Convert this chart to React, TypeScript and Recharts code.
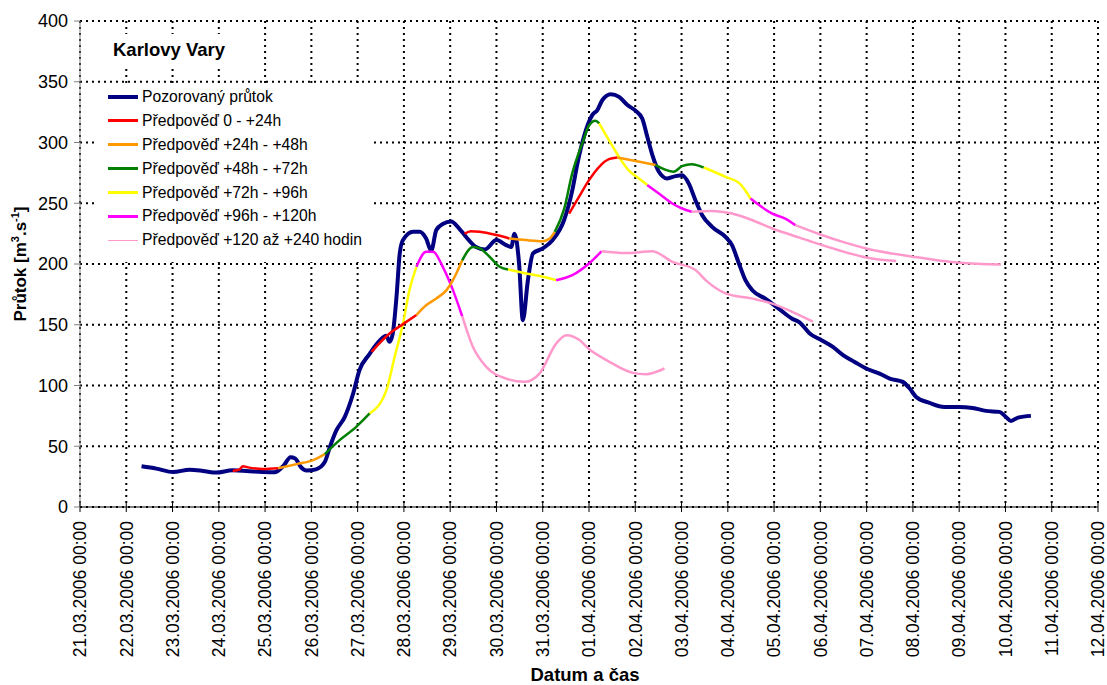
import { CartesianGrid, Legend, Line, LineChart, XAxis, YAxis } from 'recharts'

type Pt = [number, number]

// x = days since 21.03.2006 00:00
const dayLabels = [
  '21.03.2006 00:00', '22.03.2006 00:00', '23.03.2006 00:00', '24.03.2006 00:00',
  '25.03.2006 00:00', '26.03.2006 00:00', '27.03.2006 00:00', '28.03.2006 00:00',
  '29.03.2006 00:00', '30.03.2006 00:00', '31.03.2006 00:00', '01.04.2006 00:00',
  '02.04.2006 00:00', '03.04.2006 00:00', '04.04.2006 00:00', '05.04.2006 00:00',
  '06.04.2006 00:00', '07.04.2006 00:00', '08.04.2006 00:00', '09.04.2006 00:00',
  '10.04.2006 00:00', '11.04.2006 00:00', '12.04.2006 00:00',
]
const dayTicks = dayLabels.map((_, i) => i)
const flowTicks = [0, 50, 100, 150, 200, 250, 300, 350, 400]

const observed: Pt[] = [
  [1.33, 33.5], [1.65, 31.6], [2.01, 28.8], [2.37, 30.7], [2.66, 29.7], [2.94, 28.3],
  [3.3, 30.2], [3.59, 29.7], [3.95, 28.8], [4.2, 28.5], [4.4, 34], [4.55, 41], [4.65, 40],
  [4.77, 33], [4.9, 30], [5.1, 31], [5.29, 37], [5.4, 49.4], [5.54, 63], [5.72, 74],
  [5.9, 93], [6.04, 112.6], [6.26, 126], [6.48, 137], [6.62, 141], [6.69, 136], [6.76, 143],
  [6.84, 173], [6.91, 208.7], [6.98, 219.7], [7.2, 226.5], [7.34, 226.5], [7.48, 221],
  [7.59, 211], [7.7, 228], [7.84, 233], [8.02, 235], [8.2, 229], [8.35, 222], [8.56, 214],
  [8.75, 212], [9.0, 219.7], [9.21, 215.5], [9.32, 214], [9.39, 225], [9.49, 200],
  [9.57, 153.8], [9.68, 186.7], [9.79, 208.7], [10.0, 212.8], [10.21, 219.6], [10.46, 236],
  [10.64, 260.8], [10.75, 282.7], [10.89, 304.7], [11.07, 322.5], [11.18, 326.7],
  [11.29, 335], [11.47, 339.8], [11.65, 337.6], [11.83, 330.8], [12.01, 326], [12.15, 319.8],
  [12.26, 304.7], [12.37, 289.6], [12.51, 275.9], [12.69, 270.4], [12.87, 272.3], [13.01, 273],
  [13.16, 266], [13.3, 252.5], [13.45, 240], [13.66, 230.6], [13.95, 222.3], [14.09, 215.5],
  [14.24, 200.4], [14.38, 186.7], [14.53, 178.4], [14.81, 171.5], [15.1, 163.3], [15.39, 155],
  [15.55, 152], [15.77, 142.8], [16, 137.8], [16.27, 131.8], [16.49, 125], [16.74, 119.4],
  [16.99, 114], [17.28, 109.8], [17.5, 105.7], [17.78, 103], [17.93, 97.5], [18.07, 90.6],
  [18.36, 85.7], [18.68, 82.4], [19.0, 82.4], [19.29, 81.5], [19.58, 79.1], [19.87, 78.3],
  [20.01, 74.1], [20.12, 70.8], [20.27, 73.6], [20.55, 75],
]

// each forecast run: segments by lead time (0-24h, 24-48h, 48-72h, 72-96h, 96-120h, 120-240h)
const run1: Pt[][] = [
  [[3.3, 29.7], [3.45, 31], [3.52, 33.5], [3.63, 32.6], [3.95, 31.3], [4.28, 31.9]],
  [[4.28, 31.9], [4.68, 35.3], [5.04, 38.6], [5.29, 43.5]],
  [[5.29, 43.5], [5.61, 55], [5.97, 66], [6.26, 77]],
  [[6.26, 77], [6.62, 96], [6.8, 123.6], [6.98, 151], [7.12, 178.5], [7.27, 197.7]],
  [[7.27, 197.7], [7.48, 210], [7.63, 210], [7.84, 197.7], [8.06, 178.5], [8.26, 157]],
  [[8.26, 157], [8.49, 131.8], [8.78, 115.3], [9.21, 105.7], [9.61, 103], [9.93, 109.8],
    [10.29, 134.5], [10.51, 141.4], [10.8, 137.3], [11.0, 130], [11.38, 120.9],
    [11.95, 110.4], [12.23, 109.3], [12.63, 114]],
]
const run2: Pt[][] = [
  [[6.3, 127.7], [6.69, 142.8], [6.98, 150.5], [7.27, 158]],
  [[7.27, 158], [7.48, 166], [7.7, 171.6], [7.92, 178.5], [8.06, 186.7], [8.26, 203]],
  [[8.26, 203], [8.49, 214], [8.64, 212.8], [8.85, 206], [9.07, 197.7], [9.25, 195.5]],
  [[9.25, 195.5], [9.64, 192.2], [10.0, 189.5], [10.29, 186.7]],
  [[10.29, 186.7], [10.64, 190.8], [11.0, 200.4], [11.27, 210.5]],
  [[11.27, 210.5], [11.79, 209], [12.37, 210.5], [12.8, 201.8], [13.3, 195], [13.52, 186.7],
    [13.95, 175.8], [14.53, 171.5], [14.96, 167.4], [15.39, 160.6], [15.84, 152.5]],
]
const run3: Pt[][] = [
  [[8.31, 225], [8.45, 227], [8.64, 226.5], [9.0, 223.8], [9.28, 221]],
  [[9.28, 221], [9.64, 219.7], [10.0, 218.8], [10.15, 221], [10.26, 226.5]],
  [[10.26, 226.5], [10.46, 245], [10.64, 275], [10.86, 299.9], [11.0, 314], [11.14, 318],
    [11.22, 315.7]],
  [[11.22, 315.7], [11.43, 302], [11.65, 288], [11.86, 277], [12.08, 270.4], [12.26, 265]],
  [[12.26, 265], [12.51, 258], [12.8, 249.8], [13.01, 245.7], [13.22, 243]],
  [[13.22, 243], [13.66, 243.7], [14.09, 241.5], [14.53, 236], [14.96, 229.2], [15.39, 223.7],
    [15.82, 218.2], [16.4, 211.3], [16.99, 205.4], [17.64, 202.4]],
]
const run4: Pt[][] = [
  [[10.57, 241.5], [10.78, 255], [11.0, 269], [11.22, 280], [11.43, 286.3], [11.61, 287.7]],
  [[11.61, 287.7], [12.01, 284.7], [12.44, 281.4]],
  [[12.44, 281.4], [12.83, 276], [13.01, 280.5], [13.22, 282.2], [13.48, 279.4]],
  [[13.48, 279.4], [13.95, 271.7], [14.27, 265.7], [14.49, 253.9]],
  [[14.49, 253.9], [14.96, 241.5], [15.24, 237.4], [15.46, 232]],
  [[15.46, 232], [16, 224.3], [16.5, 218], [16.99, 212.8], [18, 206], [19, 201], [19.9, 199.6]],
]

const observedName = 'Pozorovaný průtok'
const leadNames = [
  'Předpověď 0 - +24h',
  'Předpověď +24h - +48h',
  'Předpověď +48h - +72h',
  'Předpověď +72h - +96h',
  'Předpověď +96h - +120h',
  'Předpověď +120 až +240 hodin',
]
const leadColors = ['#ff0000', '#ff9900', '#008000', '#ffff00', '#ff00ff', '#ff99cc']
const legendSwatch: Record<string, number> = { [observedName]: 4 }
leadNames.forEach((n, i) => (legendSwatch[n] = i === 5 ? 1.5 : 3))

const font = '"Liberation Sans", Arial, sans-serif'
const toRows = (pts: Pt[]) => pts.map(([d, v]) => ({ d, v }))

// tick props: y already includes tickSize (5) + tickMargin (9)
function DateTick({ x, y, payload }: any) {
  const axisY = y - 14
  return (
    <g>
      <line x1={x} x2={x} y1={axisY - 4} y2={axisY} stroke="#000" strokeWidth={1} />
      <text x={x} y={y} transform={`rotate(-90 ${x} ${y})`} textAnchor="end" dy="0.36em"
        fontSize={17.5} fontFamily={font} fill="#000">
        {dayLabels[payload.value]}
      </text>
    </g>
  )
}

function YTitle({ viewBox }: any) {
  const cx = 26
  const cy = viewBox.y + viewBox.height / 2
  return (
    <text x={cx} y={cy} transform={`rotate(-90 ${cx} ${cy})`} textAnchor="middle"
      fontSize={17} fontWeight="bold" fontFamily={font} fill="#000">
      <tspan>Průtok [m</tspan>
      <tspan dy={-7} fontSize={11}>3</tspan>
      <tspan dy={7}>.s</tspan>
      <tspan dy={-7} fontSize={11}>-1</tspan>
      <tspan dy={7}>]</tspan>
    </text>
  )
}

function XTitle({ viewBox }: any) {
  return (
    <text x={viewBox.x + viewBox.width / 2 - 4} y={681} textAnchor="middle"
      fontSize={18.5} fontWeight="bold" fontFamily={font} fill="#000">
      Datum a čas
    </text>
  )
}

function LegendBox({ payload }: any) {
  const order = [observedName, ...leadNames]
  const items = (payload || [])
    .filter((e: any) => e.type !== 'none' && order.includes(e.value))
    .sort((a: any, b: any) => order.indexOf(a.value) - order.indexOf(b.value))
  return (
    <div style={{ fontFamily: font, fontSize: 15.7, color: '#000', background: '#fff', padding: '1px 0 10px 13px' }}>
      {items.map((e: any) => (
        <div key={e.value} style={{ display: 'flex', alignItems: 'center', height: 23.9, whiteSpace: 'nowrap' }}>
          <span style={{ display: 'inline-block', width: 30, height: legendSwatch[e.value], background: e.color, marginRight: 4 }} />
          <span>{e.value}</span>
        </div>
      ))}
    </div>
  )
}

export default function App() {
  const runs = [run1, run2, run3, run4]
  return (
    <div style={{ position: 'absolute', left: 0, top: 0, width: 1107, height: 685, background: '#fff' }}>
      <LineChart width={1107} height={685} margin={{ top: 21, right: 9, bottom: 0, left: 0 }}>
        <CartesianGrid stroke="#000" strokeWidth={2} strokeDasharray="2 4" />
        <XAxis type="number" dataKey="d" domain={[0, 22]} ticks={dayTicks} interval={0}
          allowDataOverflow height={178} stroke="#000" tickSize={5} tickMargin={9}
          tick={<DateTick />} label={<XTitle />} />
        <YAxis type="number" domain={[0, 400]} ticks={flowTicks} interval={0} width={80}
          stroke="#808080" tickSize={6} tickMargin={6}
          tick={{ fill: '#000', fontSize: 18, fontFamily: font }} label={<YTitle />} />
        <Legend layout="vertical" align="center" verticalAlign="middle" content={<LegendBox />}
          wrapperStyle={{ position: 'absolute', left: 95, top: 84, width: 277 }} />
        <Line data={toRows(observed)} dataKey="v" name={observedName} type="monotone"
          stroke="#000080" strokeWidth={4} dot={false} activeDot={false} isAnimationActive={false} />
        {runs.map((run, r) =>
          run.map((seg, i) => (
            <Line key={`r${r}s${i}`} data={toRows(seg)} dataKey="v" name={leadNames[i]}
              type="monotone" stroke={leadColors[i]} strokeWidth={2.5} dot={false}
              activeDot={false} isAnimationActive={false}
              legendType={r === 0 ? 'line' : 'none'} />
          ))
        )}
      </LineChart>
      <div style={{ position: 'absolute', left: 100, top: 34, padding: '5px 12px 8px 13px', background: '#fff', fontFamily: font, fontWeight: 'bold', fontSize: 18.5, color: '#000' }}>
        Karlovy Vary
      </div>
    </div>
  )
}
